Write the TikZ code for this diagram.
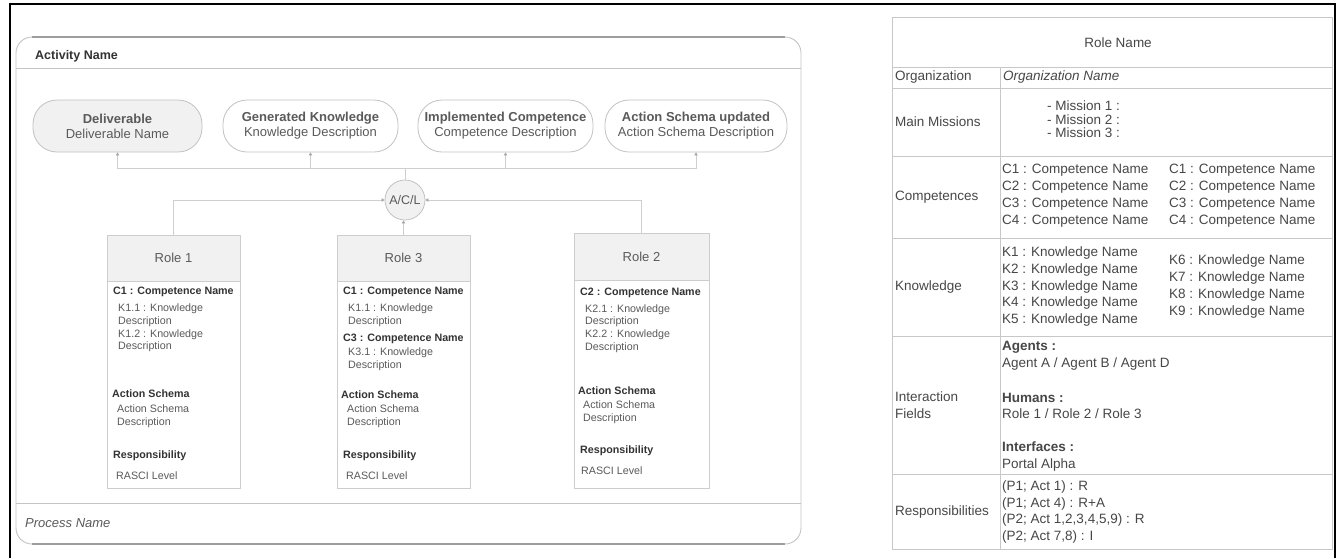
\documentclass[tikz,border=0pt]{standalone}
\usepackage{fontspec}
\setmainfont{Liberation Sans}
\usetikzlibrary{arrows.meta}
\definecolor{panelline}{HTML}{C4C4C4}
\definecolor{paneledge}{HTML}{9E9E9E}
\definecolor{pillline}{HTML}{C2C2C2}
\definecolor{boxline}{HTML}{CDCDCD}
\definecolor{lightfill}{HTML}{F1F1F1}
\definecolor{connline}{HTML}{CFCFCF}
\definecolor{tipcol}{HTML}{A8A8A8}
\definecolor{txtgray}{HTML}{5A5A5A}
\definecolor{txtdark}{HTML}{333333}
\definecolor{tabline}{HTML}{C8C8C8}
\definecolor{tabtext}{HTML}{474747}
\begin{document}
\begin{tikzpicture}[x=1pt,y=-1pt,
  every node/.style={inner sep=0pt},
  frameline/.style={line width=2.4pt, black},
  panel/.style={draw=panelline, line width=0.9pt, rounded corners=16pt},
  pill/.style={draw=pillline, line width=0.8pt, rounded corners=24pt,
    minimum height=52pt, align=center, text=txtgray,
    font=\fontsize{13}{15}\selectfont},
  hub/.style={circle, draw=pillline, line width=0.8pt, fill=lightfill,
    minimum size=40pt, text=txtgray, font=\fontsize{12.5}{14}\selectfont},
  rolebox/.style={draw=boxline, line width=0.8pt, fill=white},
  rolehead/.style={draw=boxline, line width=0.8pt, fill=lightfill,
    text=txtgray, font=\fontsize{13}{15}\selectfont},
  sm/.style={anchor=west, align=left, text=txtgray,
    font=\fontsize{10.7}{12.7}\selectfont},
  smb/.style={anchor=west, align=left, text=txtdark,
    font=\bfseries\fontsize{10.7}{12.7}\selectfont},
  conn/.style={draw=connline, line width=0.8pt,
    -{Triangle[length=3pt,width=3.4pt,color=tipcol]}},
  wire/.style={draw=connline, line width=0.8pt},
  tb/.style={anchor=west, align=left, text=tabtext,
    font=\fontsize{13.5}{16.8}\selectfont},
  tbb/.style={tb, text=txtdark, font=\bfseries\fontsize{13.5}{16.8}\selectfont},
  grid/.style={draw=tabline, line width=0.9pt}
]
\useasboundingbox (0,0) rectangle (1340,558);
\fill[white] (0,0) rectangle (1340,558);

% outer frame (top, left, right)
\draw[frameline] (10,558) -- (10,4) -- (1335,4) -- (1335,558);

% ---------- activity panel ----------
\draw[panel] (16,37) rectangle (801,544);
\draw[paneledge, line width=1.6pt] (32,37) -- (785,37);
\draw[paneledge, line width=1.6pt] (32,544) -- (785,544);
\draw[panelline, line width=0.8pt] (16,68) -- (801,68);
\draw[panelline, line width=0.8pt] (16,503) -- (801,503);
\node[anchor=west, text=txtdark, font=\bfseries\fontsize{12.5}{14}\selectfont]
  (title) at (35,56) {Activity Name};
\node[anchor=west, text=txtgray, font=\itshape\fontsize{13}{15}\selectfont]
  (process) at (25,523) {Process Name};

% outputs
\node[pill, fill=lightfill, minimum width=169pt] (d1) at (117.5,126)
  {\textbf{Deliverable}\\Deliverable Name};
\node[pill, fill=white, minimum width=175pt] (d2) at (310.5,126)
  {\textbf{Generated Knowledge}\\Knowledge Description};
\node[pill, fill=white, minimum width=175pt] (d3) at (505.5,126)
  {\textbf{Implemented Competence}\\Competence Description};
\node[pill, fill=white, minimum width=182pt] (d4) at (696,126)
  {\textbf{Action Schema updated}\\Action Schema Description};

% hub
\node[hub] (acl) at (405,200) {A/C/L};
\coordinate (bus) at (0,168);
\draw[conn] (acl.north) -- (acl.north |- bus) -| (d1.south);
\draw[conn] (acl.north) -- (acl.north |- bus) -| (d2.south);
\draw[conn] (acl.north) -- (acl.north |- bus) -| (d3.south);
\draw[conn] (acl.north) -- (acl.north |- bus) -| (d4.south);

% roles
\node[rolebox, minimum width=133pt, minimum height=253pt] (r1) at (173.5,361.5) {};
\node[rolebox, minimum width=133pt, minimum height=253pt] (r3) at (403.5,361.5) {};
\node[rolebox, minimum width=135pt, minimum height=255pt] (r2) at (641.5,360.5) {};
\node[rolehead, minimum width=133pt, minimum height=46pt, anchor=north] (r1h) at (r1.north) {Role 1};
\node[rolehead, minimum width=133pt, minimum height=46pt, anchor=north] (r3h) at (r3.north) {Role 3};
\node[rolehead, minimum width=135pt, minimum height=47pt, anchor=north] (r2h) at (r2.north) {Role 2};

\draw[conn] (r1h.north) |- (acl.west);
\draw[conn] (r2h.north) |- (acl.east);
\draw[conn] (r3h.north) -- (r3h.north |- acl.south);

% role 1 content
\node[smb] (r1c) at (113,292) {C1 : Competence Name};
\node[sm]  (r1k) at (118,328) {K1.1 : Knowledge\\Description\\K1.2 : Knowledge\\Description};
\node[smb] (r1a) at (112,394) {Action Schema};
\node[sm]  (r1ad) at (117,416.5) {Action Schema\\Description};
\node[smb] (r1r) at (113,456) {Responsibility};
\node[sm]  (r1rl) at (116,476) {RASCI Level};

% role 3 content
\node[smb] (r3c) at (343,292) {C1 : Competence Name};
\node[sm]  (r3k) at (348,315) {K1.1 : Knowledge\\Description};
\node[smb] (r3c3) at (343,339) {C3 : Competence Name};
\node[sm]  (r3k3) at (348,359) {K3.1 : Knowledge\\Description};
\node[smb] (r3a) at (341,395) {Action Schema};
\node[sm]  (r3ad) at (347,416.5) {Action Schema\\Description};
\node[smb] (r3r) at (343,456) {Responsibility};
\node[sm]  (r3rl) at (346,476) {RASCI Level};

% role 2 content
\node[smb] (r2c) at (580,293) {C2 : Competence Name};
\node[sm]  (r2k) at (585,328.5) {K2.1 : Knowledge\\Description\\K2.2 : Knowledge\\Description};
\node[smb] (r2a) at (578,391) {Action Schema};
\node[sm]  (r2ad) at (583,412.5) {Action Schema\\Description};
\node[smb] (r2r) at (580,451) {Responsibility};
\node[sm]  (r2rl) at (581,471) {RASCI Level};

% ---------- role sheet table ----------
\draw[grid] (892,17) rectangle (1332,549);
\foreach \yy in {67,88,156,238,336,474} \draw[grid] (892,\yy) -- (1332,\yy);
\draw[grid] (1000,67) -- (1000,549);

\node[tb, anchor=center] (rname) at (1118,43) {Role Name};
\node[tb] (lorg) at (895,77) {Organization};
\node[tb, font=\itshape\fontsize{13.5}{16.8}\selectfont] (vorg) at (1003,77) {Organization Name};
\node[tb] (lmis) at (895,122) {Main Missions};
\node[tb, font=\fontsize{13.5}{13.5}\selectfont] (vmis) at (1047,119.5)
  {- Mission 1 :\\- Mission 2 :\\- Mission 3 :};
\node[tb] (lcomp) at (895,197) {Competences};
\node[tb, font=\fontsize{13.5}{17}\selectfont] (vcomp1) at (1002,195.5)
  {C1 : Competence Name\\C2 : Competence Name\\C3 : Competence Name\\C4 : Competence Name};
\node[tb, font=\fontsize{13.5}{17}\selectfont] (vcomp2) at (1169,195.5)
  {C1 : Competence Name\\C2 : Competence Name\\C3 : Competence Name\\C4 : Competence Name};
\node[tb] (lknow) at (895,287) {Knowledge};
\node[tb] (vknow1) at (1002,286.5)
  {K1 : Knowledge Name\\K2 : Knowledge Name\\K3 : Knowledge Name\\K4 : Knowledge Name\\K5 : Knowledge Name};
\node[tb] (vknow2) at (1169,286.5)
  {K6 : Knowledge Name\\K7 : Knowledge Name\\K8 : Knowledge Name\\K9 : Knowledge Name};
\node[tb] (lint) at (895,405) {Interaction\\Fields};
\node[tb] (vagents) at (1002,356) {\textbf{Agents :}\\Agent A / Agent B / Agent D};
\node[tb] (vhumans) at (1002,406) {\textbf{Humans :}\\Role 1 / Role 2 / Role 3};
\node[tb] (vinter) at (1002,456.5) {\textbf{Interfaces :}\\Portal Alpha};
\node[tb] (lresp) at (895,512) {Responsibilities};
\node[tb] (vresp) at (1002,512)
  {(P1; Act 1) : R\\(P1; Act 4) : R+A\\(P2; Act 1,2,3,4,5,9) : R\\(P2; Act 7,8) : I};
\end{tikzpicture}
\end{document}
